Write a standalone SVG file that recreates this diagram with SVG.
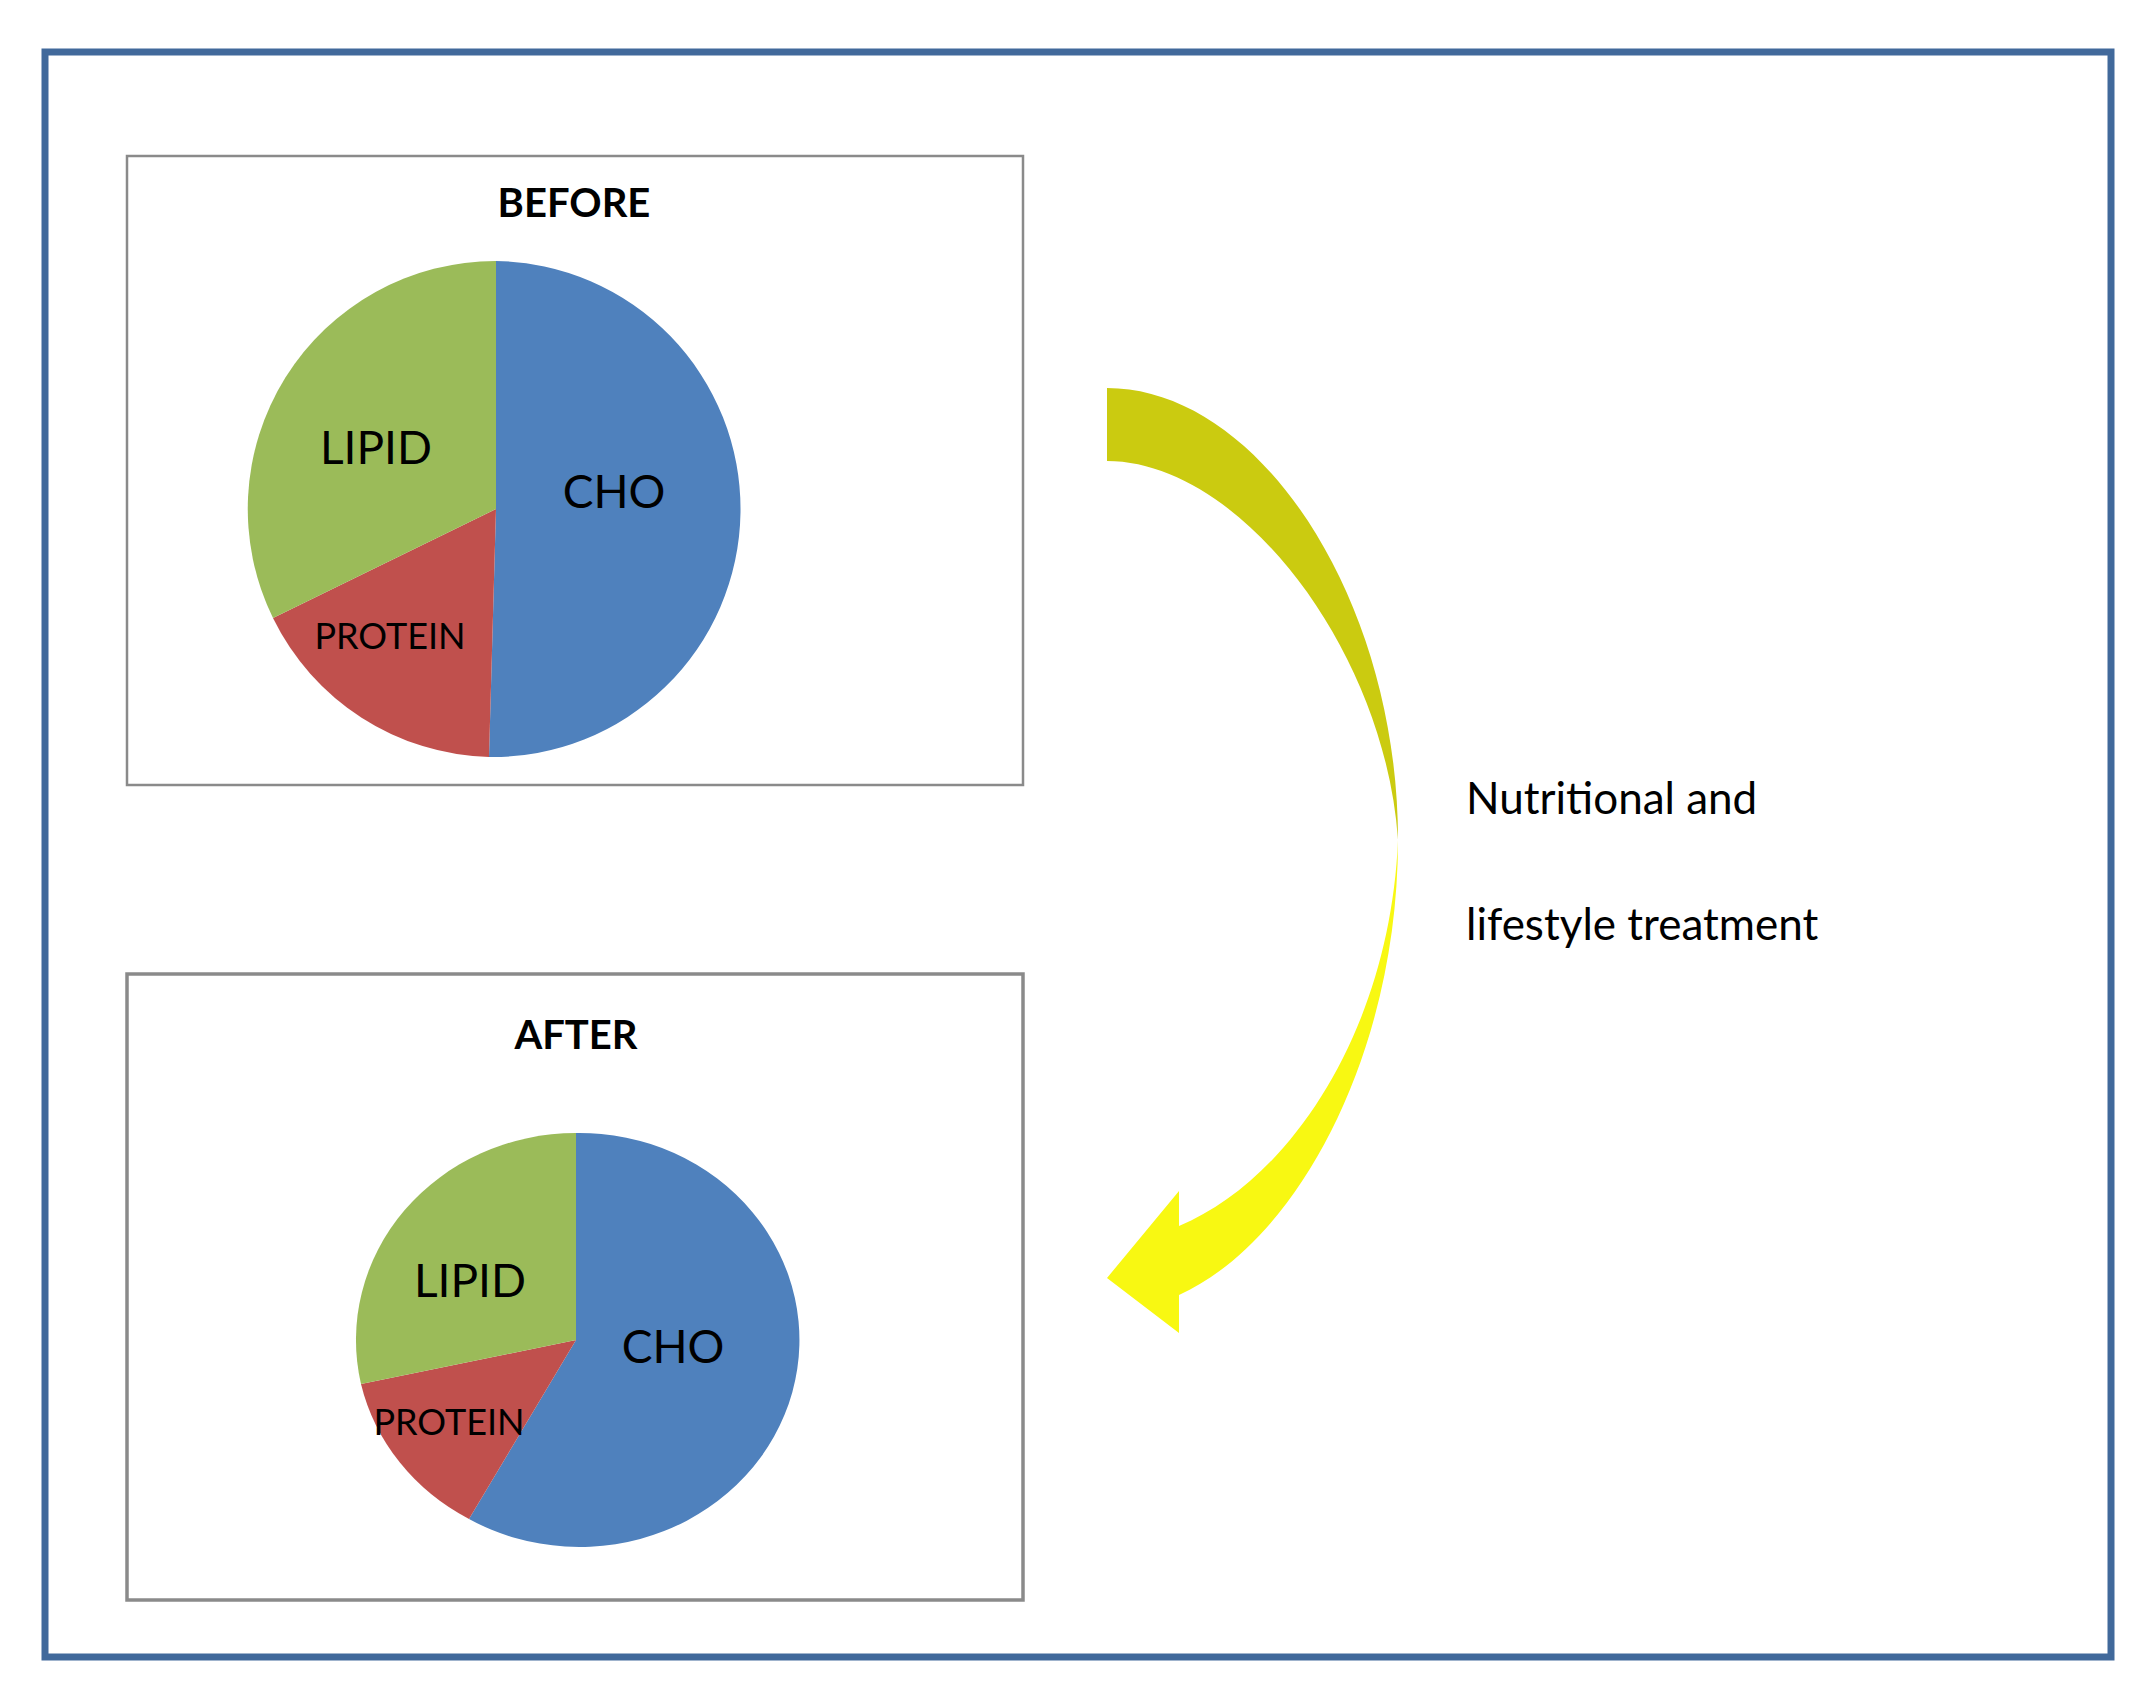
<svg xmlns="http://www.w3.org/2000/svg" width="2148" height="1695" viewBox="0 0 2148 1695">
<style>
text{font-family:Lato,"Open Sans","Liberation Sans",sans-serif;fill:#000}
.box{fill:#fff;stroke:#8a8a8a}
.t{font-weight:bold;font-size:40px;text-anchor:middle}
.l{font-size:46px;text-anchor:middle}
.p{font-size:36px;text-anchor:middle}
</style>
<rect width="2148" height="1695" fill="#fff"/>
<rect x="45" y="52" width="2066" height="1605" fill="none" stroke="#41699b" stroke-width="7"/>
<g id="before">
<rect class="box" x="127" y="156" width="896" height="629" stroke-width="2.5"/>
<text class="t" x="574" y="217">BEFORE</text>
<path d="M496,509 L496,261 A248,248 0 0 1 489,757 Z" fill="#4f81bd"/>
<path d="M496,509 L489,757 A248,248 0 0 1 273,618 Z" fill="#c0504d"/>
<path d="M496,509 L273,618 A248,248 0 0 1 496,261 Z" fill="#9bbb59"/>
<text class="l" x="376" y="464">LIPID</text>
<text class="l" x="614" y="508">CHO</text>
<text class="p" x="390" y="649">PROTEIN</text>
</g>
<g id="after">
<rect class="box" x="127" y="974" width="896" height="626" stroke-width="3.5" stroke="#7a7a7a"/>
<text class="t" x="576" y="1049">AFTER</text>
<path d="M576,1340 L576,1133 A220,207 0 1 1 469,1519 Z" fill="#4f81bd"/>
<path d="M576,1340 L469,1519 A220,207 0 0 1 361,1384 Z" fill="#c0504d"/>
<path d="M576,1340 L361,1384 A220,207 0 0 1 576,1133 Z" fill="#9bbb59"/>
<text class="l" x="470" y="1297">LIPID</text>
<text class="l" x="673" y="1363">CHO</text>
<text class="p" x="449" y="1435">PROTEIN</text>
</g>
<g id="connectors">
<path d="M1107,388 C1260,388 1398,600 1398,840 C1385,650 1240,461 1107,461 Z" fill="#cbcb10"/>
<path d="M1398,840 C1398,1050 1300,1240 1179,1295 L1179,1333 L1107,1278 L1179,1191 L1179,1226 C1290,1180 1390,1030 1398,840 Z" fill="#f8f812"/>
</g>
<g id="label">
<text x="1466" y="814" font-size="44">Nutritional and</text>
<text x="1466" y="940" font-size="44">lifestyle treatment</text>
</g>
</svg>
